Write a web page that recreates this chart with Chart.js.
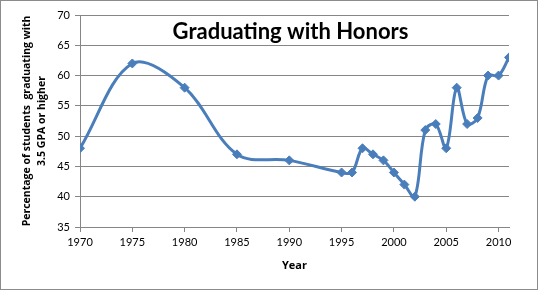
<!DOCTYPE html>
<html>
<head>
<meta charset="utf-8">
<script src="https://cdn.jsdelivr.net/npm/chart.js@4/dist/chart.umd.min.js"></script>
<style>
  html, body { margin: 0; padding: 0; background: #fff; }
  #wrap { position: relative; width: 538px; height: 290px; box-sizing: border-box; border: 1px solid #8c8c8c; }
  canvas { display: block; }
</style>
</head>
<body>
<div id="wrap"><canvas id="chart" width="536" height="288"></canvas></div>
<script>
  // Data
  const years = [1970, 1975, 1980, 1985, 1990, 1995, 1996, 1997, 1998, 1999, 2000,
                 2001, 2002, 2003, 2004, 2005, 2006, 2007, 2008, 2009, 2010, 2011];
  const honorsPct = [48, 62, 58, 47, 46, 44, 44, 48, 47, 46, 44,
                     42, 40, 51, 52, 48, 58, 52, 53, 60, 60, 63];
  const chartTitle = 'Graduating with Honors';
  const yTitle = ['Percentage of students  graduating with', '3.5 GPA or higher'];
  const xTitle = 'Year';

  const FONT = 'Lato, "Open Sans", sans-serif';
  const BLUE = '#4a7ebb';
  const GRID = '#868686';

  // Title sits inside the plot area, like the Excel original
  const innerTitle = {
    id: 'innerTitle',
    afterDraw(chart) {
      const { ctx, chartArea } = chart;
      ctx.save();
      ctx.font = 'bold 22px ' + FONT;
      ctx.fillStyle = '#000';
      ctx.textAlign = 'center';
      ctx.textBaseline = 'middle';
      ctx.fillText(chartTitle, (chartArea.left + chartArea.right) / 2 - 4, 31);
      ctx.restore();
    }
  };

  const points = years.map((y, i) => ({ x: y, y: honorsPct[i] }));

  new Chart(document.getElementById('chart'), {
    type: 'line',
    data: {
      datasets: [{
        data: points,
        borderColor: BLUE,
        backgroundColor: BLUE,
        borderWidth: 3,
        tension: 0.35,
        pointStyle: 'rectRot',
        pointRadius: 4.5,
        pointBorderWidth: 1,
        fill: false
      }]
    },
    options: {
      responsive: false,
      animation: false,
      layout: { padding: { left: 0, top: 14, right: 28, bottom: 0 } },
      plugins: { legend: { display: false }, tooltip: { enabled: false } },
      scales: {
        x: {
          type: 'linear',
          min: 1970,
          max: 2011,
          afterFit: (scale) => { scale.height = 62; },
          ticks: {
            stepSize: 5, includeBounds: false, autoSkip: false, maxRotation: 0, padding: 4,
            color: '#000', font: { family: FONT, size: 11 },
            callback: (v) => String(v)
          },
          grid: { drawOnChartArea: false, drawTicks: true, tickLength: 5, color: GRID },
          border: { display: true, color: GRID },
          title: { display: true, text: xTitle, color: '#000', font: { family: 'Open Sans, sans-serif', size: 11, weight: 'bold' }, padding: { top: 0, bottom: 17 } }
        },
        y: {
          min: 35,
          max: 70,
          afterFit: (scale) => { scale.width = 79; },
          ticks: { stepSize: 5, color: '#000', font: { family: FONT, size: 11 }, padding: 5 },
          grid: { color: GRID, tickLength: 5 },
          border: { display: true, color: GRID },
          title: { display: true, text: yTitle, color: '#000', font: { family: 'Open Sans, sans-serif', size: 10.5, weight: 'bold', lineHeight: 1.42 }, padding: { top: 19, bottom: 0 } }
        }
      }
    },
    plugins: [innerTitle]
  });
</script>
</body>
</html>
